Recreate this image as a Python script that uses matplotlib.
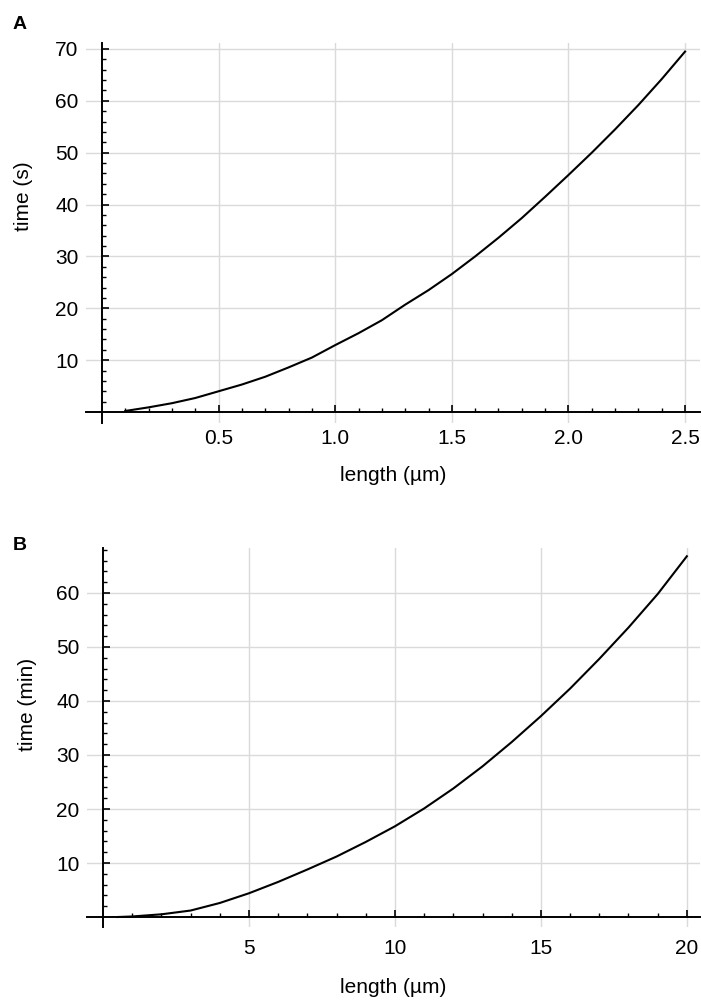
import matplotlib
matplotlib.use("Agg")
import matplotlib.pyplot as plt
from matplotlib.ticker import FixedLocator

plt.rcParams["font.family"] = ["Liberation Sans", "DejaVu Sans"]

# panel A: time (s) vs length (um)
length_a = [0.1, 0.2, 0.3, 0.4, 0.5, 0.6, 0.7, 0.8, 0.9, 1.0, 1.1, 1.2, 1.3,
            1.4, 1.5, 1.6, 1.7, 1.8, 1.9, 2.0, 2.1, 2.2, 2.3, 2.4, 2.5]
time_a = [0.2, 0.9, 1.7, 2.7, 4.0, 5.3, 6.8, 8.6, 10.5, 12.9, 15.2, 17.7, 20.7,
          23.5, 26.6, 30.0, 33.6, 37.4, 41.5, 45.7, 50.0, 54.5, 59.2, 64.2, 69.5]

# panel B: time (min) vs length (um)
length_b = [0.5, 1, 2, 3, 4, 5, 6, 7, 8, 9, 10, 11, 12, 13, 14, 15, 16, 17,
            18, 19, 20]
time_b = [0.0, 0.1, 0.5, 1.2, 2.6, 4.4, 6.5, 8.8, 11.2, 13.9, 16.8, 20.1, 23.8,
          27.9, 32.4, 37.2, 42.3, 47.8, 53.6, 59.8, 66.8]

xticks_a = [0.5, 1.0, 1.5, 2.0, 2.5]
xticklabels_a = ["0.5", "1.0", "1.5", "2.0", "2.5"]
yticks_a = [10, 20, 30, 40, 50, 60, 70]
xticks_b = [5, 10, 15, 20]
yticks_b = [10, 20, 30, 40, 50, 60]

GRID = "#dadada"
FS = 15


def minor_positions(step, top):
    n = int(top / step + 1e-9)
    return [round(i * step, 6) for i in range(1, n + 1)]


def style_axes(ax, xticks, xlabels, yticks, xminor, yminor, xlim, ylim,
               xlabel, ylabel, xlab_y, ylab_x, ylab_y, xpad):
    ax.set_xlim(*xlim)
    ax.set_ylim(*ylim)
    ax.spines["top"].set_visible(False)
    ax.spines["right"].set_visible(False)
    ax.spines["left"].set_position(("data", 0))
    ax.spines["bottom"].set_position(("data", 0))
    for side in ("left", "bottom"):
        ax.spines[side].set_linewidth(1.4)
    ax.xaxis.set_major_locator(FixedLocator(xticks))
    ax.set_xticklabels(xlabels)
    ax.yaxis.set_major_locator(FixedLocator(yticks))
    ax.xaxis.set_minor_locator(FixedLocator(minor_positions(xminor, xlim[1])))
    ax.yaxis.set_minor_locator(FixedLocator(minor_positions(yminor, ylim[1])))
    ax.tick_params(which="major", direction="in", length=5, width=1.2,
                   labelsize=FS, colors="black")
    ax.tick_params(which="minor", direction="in", length=3, width=1.0)
    ax.tick_params(axis="y", which="major", pad=17)
    ax.tick_params(axis="x", which="major", pad=xpad)
    ax.grid(True, which="major", color=GRID, linewidth=1.0)
    ax.set_axisbelow(True)
    ax.set_xlabel(xlabel, fontsize=FS)
    ax.set_ylabel(ylabel, fontsize=FS)
    ax.xaxis.set_label_coords(0.5, xlab_y)
    ax.yaxis.set_label_coords(ylab_x, ylab_y)


fig = plt.figure(figsize=(7.01, 10.0), dpi=100)

ax_a = fig.add_axes([86 / 701, 1 - 423 / 1000, 614 / 701, 0.380])
ax_a.plot(length_a, time_a, color="black", linewidth=1.5)
style_axes(ax_a, xticks_a, xticklabels_a, yticks_a, 0.1, 2,
           (-0.0686, 2.564), (-2.12, 71.15),
           "length (\u00b5m)", "time (s)", -0.112, -0.086, 0.597, 12)

ax_b = fig.add_axes([87 / 701, 1 - 927 / 1000, 613 / 701, 0.379])
ax_b.plot(length_b, time_b, color="black", linewidth=1.5)
style_axes(ax_b, xticks_b, [str(v) for v in xticks_b], yticks_b, 1, 2,
           (-0.55, 20.45), (-1.85, 68.33),
           "length (\u00b5m)", "time (min)", -0.135, -0.082, 0.586, 16)

fig.text(13 / 701, 1 - 29 / 1000, "A", fontsize=14, fontweight="bold")
fig.text(13 / 701, 1 - 550 / 1000, "B", fontsize=14, fontweight="bold")

fig.savefig("out.png", dpi=100)
